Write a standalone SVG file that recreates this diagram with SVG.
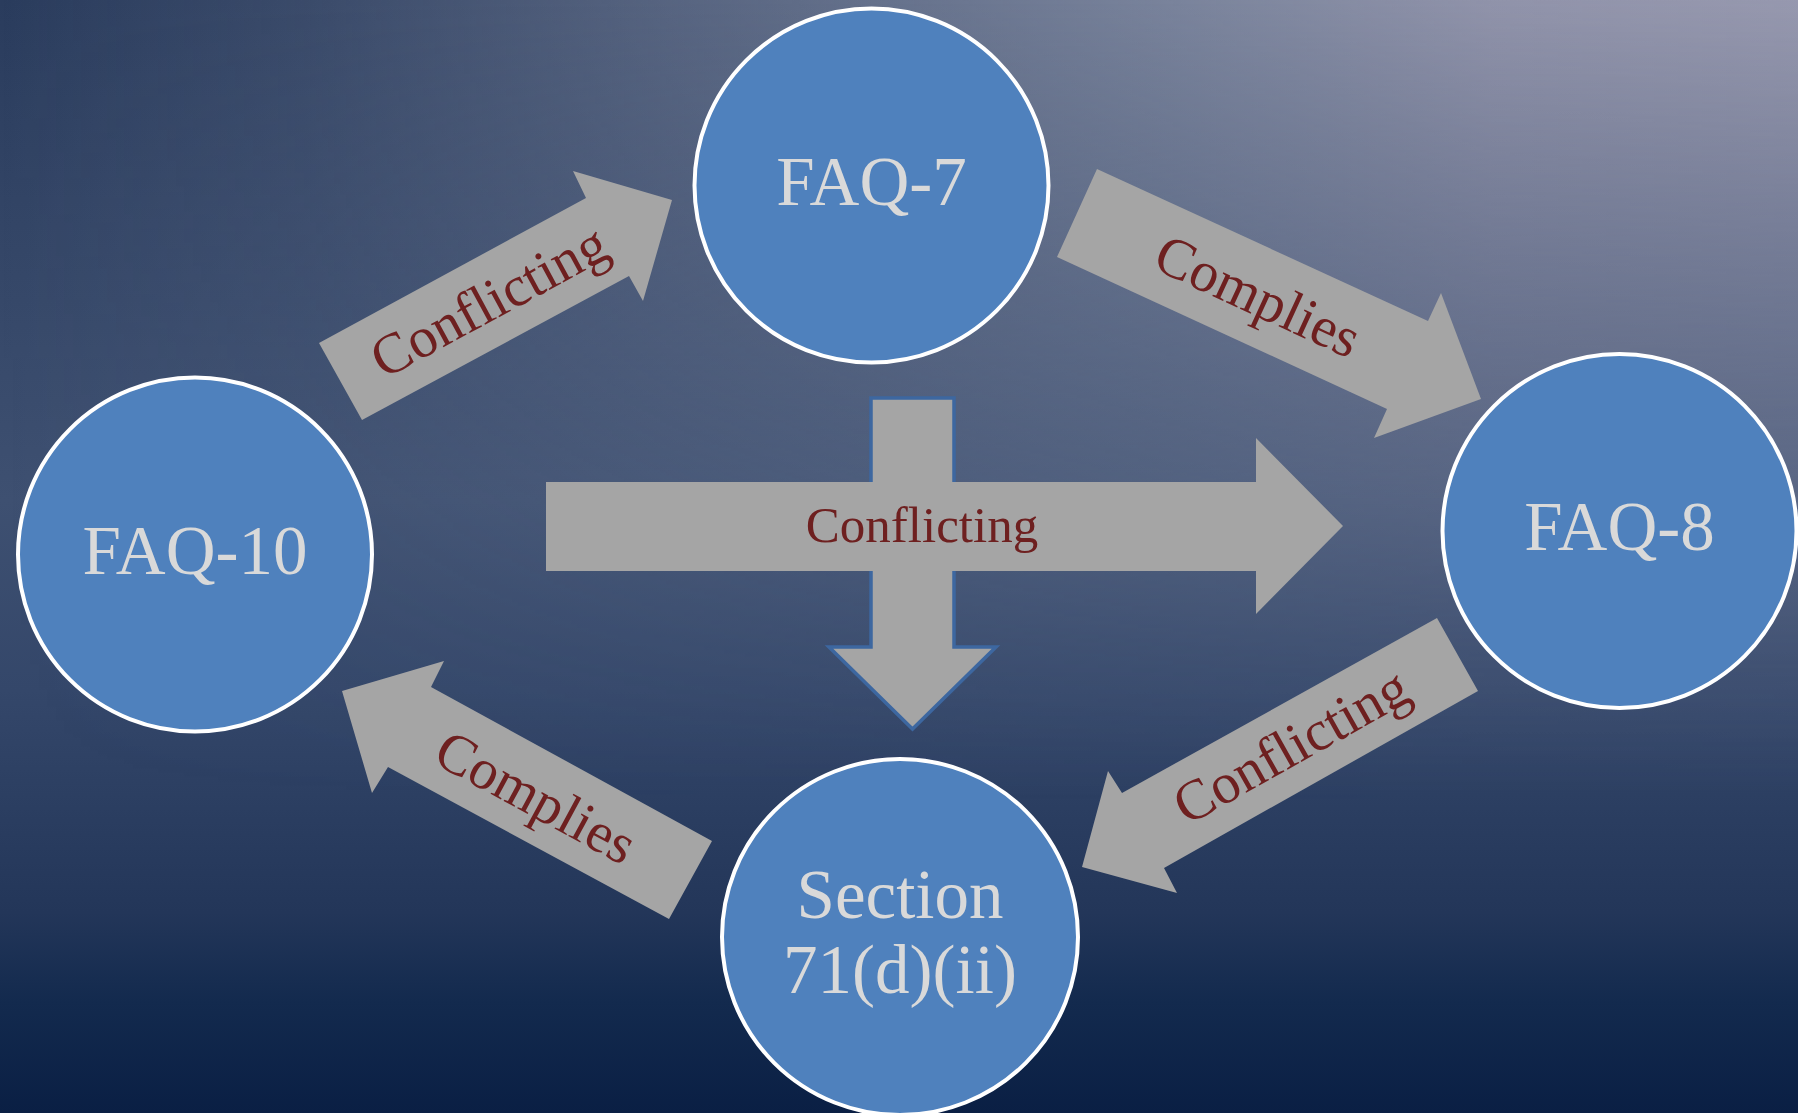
<svg xmlns="http://www.w3.org/2000/svg" width="1798" height="1113" viewBox="0 0 1798 1113">
  <defs>
    <linearGradient id="bgBase" x1="0" y1="0" x2="0" y2="1">
      <stop offset="0" stop-color="#2A3C5D"/>
      <stop offset="0.45" stop-color="#3E5071"/>
      <stop offset="0.62" stop-color="#34476A"/>
      <stop offset="0.82" stop-color="#233659"/>
      <stop offset="0.9" stop-color="#132A4E"/>
      <stop offset="1" stop-color="#0A1F44"/>
    </linearGradient>
    <linearGradient id="bgHiH" x1="0" y1="0" x2="1" y2="0">
      <stop offset="0" stop-color="#A0A6BA" stop-opacity="0"/>
      <stop offset="0.17" stop-color="#A0A6BA" stop-opacity="0.14"/>
      <stop offset="0.38" stop-color="#A0A6BA" stop-opacity="0.39"/>
      <stop offset="0.64" stop-color="#A0A6BA" stop-opacity="0.66"/>
      <stop offset="0.83" stop-color="#A3A3B8" stop-opacity="0.85"/>
      <stop offset="1" stop-color="#A3A3B8" stop-opacity="0.9"/>
    </linearGradient>
    <linearGradient id="bgHiV" x1="0" y1="0" x2="0" y2="1">
      <stop offset="0" stop-color="#FFFFFF" stop-opacity="1"/>
      <stop offset="0.18" stop-color="#FFFFFF" stop-opacity="0.72"/>
      <stop offset="0.31" stop-color="#FFFFFF" stop-opacity="0.52"/>
      <stop offset="0.45" stop-color="#FFFFFF" stop-opacity="0.3"/>
      <stop offset="0.6" stop-color="#FFFFFF" stop-opacity="0.12"/>
      <stop offset="0.72" stop-color="#FFFFFF" stop-opacity="0"/>
      <stop offset="1" stop-color="#FFFFFF" stop-opacity="0"/>
    </linearGradient>
    <mask id="hiMask" maskUnits="userSpaceOnUse" x="0" y="0" width="1798" height="1113">
      <rect x="0" y="0" width="1798" height="1113" fill="url(#bgHiV)"/>
    </mask>
    <style>
      .node circle { fill: #4F81BD; stroke: #FFFFFF; stroke-width: 4; }
      .node text { font-family: "Liberation Serif", "Times New Roman", serif; font-size: 69px; fill: #D9D9D9; text-anchor: middle; }
      .arrow { fill: #A5A5A5; }
      .arrow-outlined { fill: #A5A5A5; stroke: #3D67A0; stroke-width: 3.5; stroke-linejoin: miter; }
      .lbl { font-family: "Liberation Serif", "Times New Roman", serif; fill: #6E2020; text-anchor: middle; }
      .lbl-diag { font-size: 57px; }
      .lbl-center { font-size: 51px; }
    </style>
  </defs>

  <rect x="0" y="0" width="1798" height="1113" fill="url(#bgBase)"/>
  <rect x="0" y="0" width="1798" height="1113" fill="url(#bgHiH)" mask="url(#hiMask)"/>

  <g id="connectors">
    <g id="arrow-faq10-faq7">
      <polygon class="arrow" points="319,343 586,198 573,171 672,200 643,301 629,276 362,420"/>
      <text class="lbl lbl-diag" transform="translate(489,301) rotate(-28.4)" y="19">Conflicting</text>
    </g>
    <g id="arrow-faq7-faq8">
      <polygon class="arrow" points="1097,169 1428,321 1441,293 1481,399 1374,438 1387,409 1057,257"/>
      <text class="lbl lbl-diag" transform="translate(1258,296) rotate(24.7)" y="19">Complies</text>
    </g>
    <g id="arrow-section-faq10">
      <polygon class="arrow" points="712,841 431,687 444,661 342,691 372,793 388,767 669,919"/>
      <text class="lbl lbl-diag" transform="translate(536,797) rotate(28.45)" y="19">Complies</text>
    </g>
    <g id="arrow-faq8-section">
      <polygon class="arrow" points="1437,618 1478,691 1164,868 1177,893 1082,867 1108,771 1122,793"/>
      <text class="lbl lbl-diag" transform="translate(1291,746) rotate(-29.3)" y="19">Conflicting</text>
    </g>
    <g id="arrow-faq7-section">
      <polygon class="arrow-outlined" points="871,398 954,398 954,647 996,647 912.5,729 829,647 871,647"/>
    </g>
    <g id="arrow-faq10-faq8">
      <polygon class="arrow" points="546,482 1256,482 1256,438 1343,526 1256,614 1256,571 546,571"/>
      <text class="lbl lbl-center" x="922" y="542">Conflicting</text>
    </g>
  </g>

  <g id="node-faq7" class="node">
    <circle cx="871.5" cy="185.5" r="177"/>
    <text x="871.5" y="205">FAQ-7</text>
  </g>
  <g id="node-faq10" class="node">
    <circle cx="195" cy="554.5" r="177"/>
    <text x="195" y="574">FAQ-10</text>
  </g>
  <g id="node-faq8" class="node">
    <circle cx="1619.5" cy="531" r="177"/>
    <text x="1619.5" y="550">FAQ-8</text>
  </g>
  <g id="node-section" class="node">
    <circle cx="900" cy="937" r="178"/>
    <text x="900" y="918">Section</text>
    <text x="900" y="993">71(d)(ii)</text>
  </g>
</svg>
